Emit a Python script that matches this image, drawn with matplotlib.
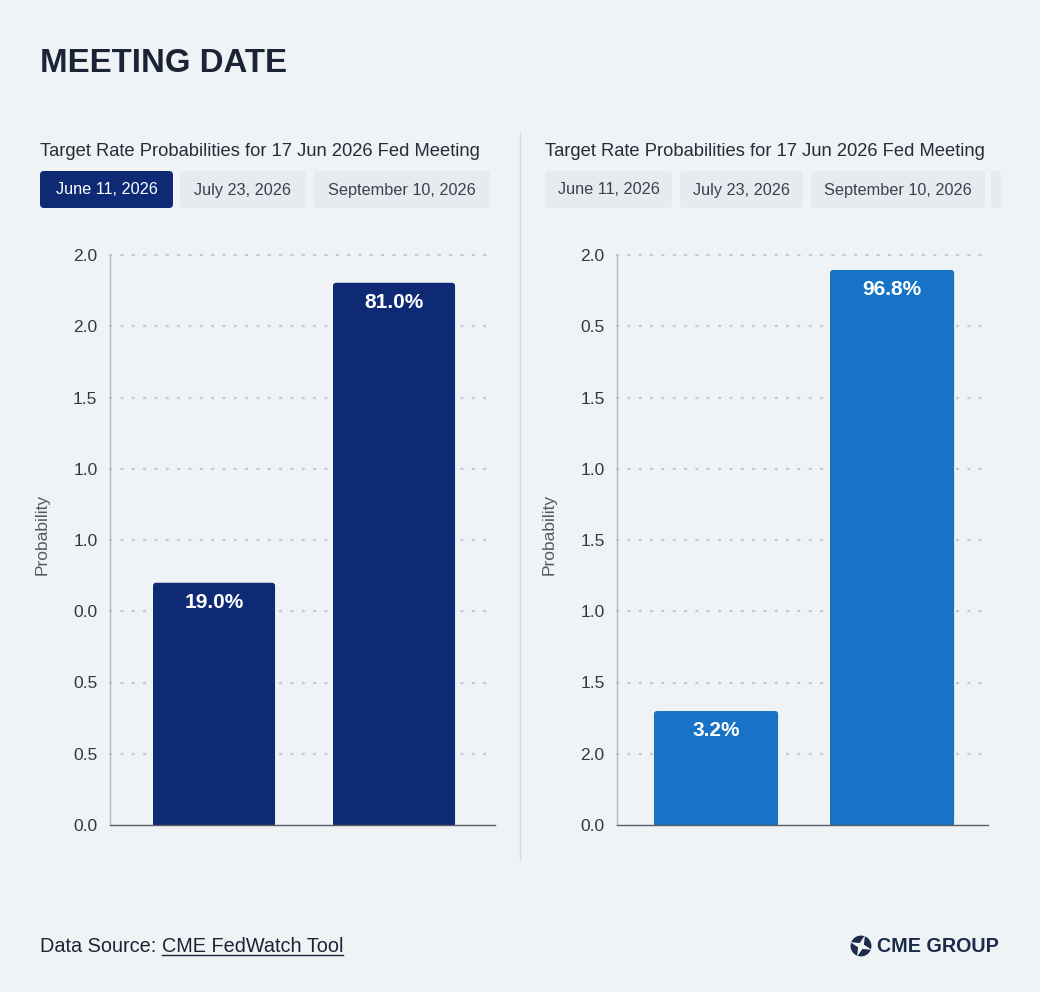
import matplotlib
matplotlib.use("Agg")
import matplotlib.pyplot as plt
from matplotlib.patches import FancyBboxPatch, Circle, Polygon
import numpy as np

plt.rcParams['font.family'] = ['Liberation Sans', 'DejaVu Sans']

# --- data ---
title = "MEETING DATE"
subtitle = "Target Rate Probabilities for 17 Jun 2026 Fed Meeting"
tabs = ["June 11, 2026", "July 23, 2026", "September 10, 2026"]

# bar heights in gridline steps (each axis shows 8 steps)
left_heights = [3.40, 7.61]
left_labels = ["19.0%", "81.0%"]
right_heights = [1.60, 7.79]
right_labels = ["3.2%", "96.8%"]

# tick labels, bottom to top, as printed in the source
left_ticks = ["0.0", "0.5", "0.5", "0.0", "1.0", "1.0", "1.5", "2.0", "2.0"]
right_ticks = ["0.0", "2.0", "1.5", "1.0", "1.5", "1.0", "1.5", "0.5", "2.0"]

BG = "#eff3f6"
NAVY = "#0f2a74"
BLUE = "#1673c5"
TEXT = "#1b2436"

W, H = 1040, 992
fig = plt.figure(figsize=(W / 100, H / 100), dpi=100, facecolor=BG)

# full-figure overlay in pixel coordinates for the page furniture
bg = fig.add_axes([0, 0, 1, 1])
bg.set_xlim(0, W)
bg.set_ylim(H, 0)
bg.axis("off")
bg.set_facecolor(BG)

bg.text(40, 64, title, fontsize=23.8, fontweight="bold", color=TEXT, va="center", ha="left")

# separator between panels
bg.plot([520, 520], [133, 860], color="#d6dade", lw=1)


def tab_row(boxes, selected):
    for i, (xa, xb) in enumerate(boxes):
        fc = NAVY if i == selected else "#e7ebef"
        tc = "white" if i == selected else "#3a4050"
        bg.add_patch(FancyBboxPatch((xa, 171), xb - xa, 37,
                                    boxstyle="round,pad=0,rounding_size=4",
                                    fc=fc, ec="none"))
        if i < len(tabs):
            bg.text((xa + xb) / 2, 190, tabs[i], fontsize=11.7, color=tc,
                    ha="center", va="center")


bg.text(40, 151, subtitle, fontsize=13.25, color="#262c3a", va="center")
tab_row([(40, 173), (180, 306), (314, 490)], 0)

bg.text(545, 151, subtitle, fontsize=13.25, color="#262c3a", va="center")
tab_row([(545, 672), (680, 803), (811, 985)], -1)
bg.add_patch(FancyBboxPatch((991, 171), 10, 37, boxstyle="round,pad=0,rounding_size=3",
                            fc="#e7ebef", ec="none"))


def panel(rect, heights, labels, ticks, color, xlim, width):
    ax = fig.add_axes(rect)
    ax.set_facecolor("none")
    x = np.arange(len(heights))
    bars = ax.bar(x, heights, width=width, color=color, zorder=3)
    # soften the top corners a little
    px_per_x = rect[2] * W / (xlim[1] - xlim[0])
    px_per_y = rect[3] * H / (len(ticks) - 1)
    for b in bars:
        b.set_visible(False)
        ax.add_patch(FancyBboxPatch((b.get_x(), 0), b.get_width(), b.get_height(),
                                    boxstyle="round,pad=0,rounding_size=%g" % (3 / px_per_x),
                                    mutation_aspect=px_per_x / px_per_y,
                                    fc=color, ec="none", zorder=3))
        ax.add_patch(plt.Rectangle((b.get_x(), 0), b.get_width(), b.get_height() / 2,
                                   fc=color, ec="none", zorder=3))
    for xi, h, lab in zip(x, heights, labels):
        ax.annotate(lab, (xi, h), xytext=(0, -20), textcoords="offset pixels",
                    ha="center", va="center", color="white", fontsize=15,
                    fontweight="bold", zorder=4)
    ax.set_ylim(0, len(ticks) - 1)
    ax.set_xlim(*xlim)
    ax.set_yticks(range(len(ticks)))
    ax.set_yticklabels(ticks)
    ax.set_xticks([])
    ax.tick_params(axis="y", length=0, pad=9, labelsize=12.5, labelcolor="#333840")
    for gy in range(1, len(ticks)):
        ax.axhline(gy, color="#c6cacf", lw=1.7, linestyle=(0, (0.5, 4.3)),
                   dash_capstyle="round", zorder=1, clip_on=False)
    for s in ["top", "right"]:
        ax.spines[s].set_visible(False)
    ax.spines["left"].set_color("#b5b9bf")
    ax.spines["left"].set_linewidth(1)
    ax.spines["bottom"].set_color("#5a5e66")
    ax.spines["bottom"].set_linewidth(1)
    ax.spines["bottom"].set_zorder(5)
    ax.set_ylabel("Probability", fontsize=12.5, color="#555a62")
    return ax


axl = panel([110 / W, 1 - 825 / H, 385 / W, 570 / H], left_heights, left_labels,
            left_ticks, NAVY, (-0.578, 1.561), 0.678)
axl.yaxis.set_label_coords(-0.156, 0.51)

axr = panel([617 / W, 1 - 825 / H, 371 / W, 570 / H], right_heights, right_labels,
            right_ticks, BLUE, (-0.5625, 1.545), 0.705)
axr.yaxis.set_label_coords(-0.162, 0.51)

# footer
t1 = bg.text(40, 946, "Data Source: ", fontsize=14.3, color=TEXT, va="center")
fig.canvas.draw()
inv = bg.transData.inverted()
ext = t1.get_window_extent()
x_end = inv.transform((ext.x1, ext.y0))[0]
t2 = bg.text(x_end, 946, "CME FedWatch Tool", fontsize=14.3, color=TEXT, va="center")
fig.canvas.draw()
e2 = t2.get_window_extent()
(ux0, uy), (ux1, _) = inv.transform([(e2.x0, e2.y0), (e2.x1, e2.y0)])
bg.plot([ux0, ux1], [uy - 1, uy - 1], color=TEXT, lw=1)

# logo: circle with a four-point star
bg.add_patch(Circle((861, 946), 11, fc="#1c2b4a", ec="none"))
ang = np.deg2rad(np.arange(0, 360, 45) + 20)
rad = np.array([11.5, 3.2] * 4)
star = np.column_stack([861 + rad * np.cos(ang), 946 + rad * np.sin(ang)])
bg.add_patch(Polygon(star, closed=True, fc=BG, ec="none"))
bg.add_patch(Circle((861, 946), 11, fc="none", ec=BG, lw=0.8))
bg.text(877, 946, "CME GROUP", fontsize=14.2, fontweight="bold", color="#1c2b4a", va="center")

fig.savefig("out.png", dpi=100, facecolor=BG)
